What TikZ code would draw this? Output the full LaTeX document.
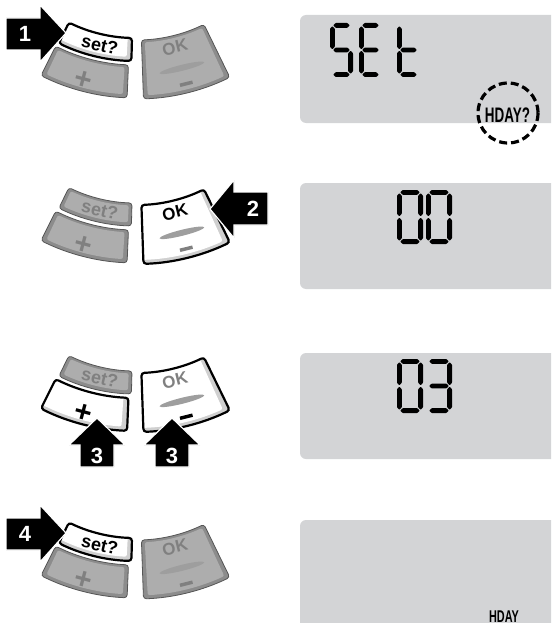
\documentclass[tikz,border=0pt]{standalone}
\usepackage{fontspec}
\setmainfont{Liberation Sans}
\definecolor{lcd}{HTML}{D3D4D6}
\definecolor{keyrim}{HTML}{8C8C8C}
\definecolor{keyface}{HTML}{ADADAD}
\definecolor{keyedge}{HTML}{555555}
\definecolor{keytext}{HTML}{808080}
\definecolor{keyshade}{HTML}{D0D0D0}
\definecolor{streak}{HTML}{9E9E9E}
\tikzset{
  keylabel/.style={font=\fontsize{18}{18}\selectfont\bfseries, inner sep=0pt},
  oklabel/.style={font=\fontsize{17}{17}\selectfont\bfseries, inner sep=0pt},
  pluslabel/.style={font=\fontsize{30}{30}\selectfont\bfseries, inner sep=0pt},
  arrowshape/.style={fill=black, draw=white, line width=1.2pt, line join=miter},
  arrowdigit/.style={font=\fontsize{22}{22}\selectfont\bfseries, text=white, inner sep=0pt},
  lcdpanel/.style={fill=lcd, rounded corners=6pt},
  segment/.style={fill=black, rounded corners=0.6pt}
}
\newcommand\kp[4]{(#1:#3) arc[start angle=#1,end angle=#2,radius=#3] -- (#2:#4) arc[start angle=#2,end angle=#1,radius=#4] -- cycle}
\newcommand\graykey[4]{%
  \pgfmathsetmacro\kia{#1-1.2}\pgfmathsetmacro\kib{#2+1.2}%
  \pgfmathsetmacro\kir{#3+2.5}\pgfmathsetmacro\kiR{#4-3.5}%
  \filldraw[fill=keyrim,draw=keyedge,line width=0.8pt,rounded corners=3pt] \kp{#1}{#2}{#3}{#4};
  \fill[keyface,rounded corners=2pt] \kp{\kia}{\kib}{\kir}{\kiR};}
\newcommand\whitekey[4]{%
  \pgfmathsetmacro\kib{#2+1.6}\pgfmathsetmacro\kiR{#4-4}%
  \fill[keyshade,rounded corners=3pt] \kp{#1}{#2}{#3}{#4};
  \fill[white,rounded corners=2pt] \kp{#1}{\kib}{#3}{\kiR};
  \draw[black,line width=2.2pt,rounded corners=3pt] \kp{#1}{#2}{#3}{#4};}
\newcommand\panelkeys[8]{%
  \begin{scope}[shift={(136,#1-115)}]
    #2{116}{91.5}{153}{176}
    #3{116.5}{92.4}{180}{213}
    #4{88}{64}{155}{214}
    \node[keylabel,text=#5,rotate=-12.8] (set#1) at (102.8:164) {set?};
    \node[pluslabel,text=#6,rotate=-15] (plus#1) at (105:202) {+};
    \node[oklabel,text=#7,rotate=13.5] (ok#1) at (76.5:167) {OK};
    \begin{scope}[shift={(75.9:188.5)},rotate=-14]
      \fill[streak] (0,0) ellipse[x radius=23,y radius=3];
    \end{scope}
    \node[fill=#8,minimum width=13pt,minimum height=3.5pt,inner sep=0pt,rotate=14] (minus#1) at (75.8:205) {};
  \end{scope}}
% seven segment digits (local coords, y down)
\def\dh{54}
\def\sth{2.4}
\newcommand\sga{\fill[segment] (\sth+0.8,\sth)--(2*\sth+0.8,0)--(\dw-2*\sth-0.8,0)--(\dw-\sth-0.8,\sth)--(\dw-2*\sth-0.8,2*\sth)--(2*\sth+0.8,2*\sth)--cycle;}
\newcommand\sgg{\fill[segment] (\sth+0.8,\dh/2)--(2*\sth+0.8,\dh/2-\sth)--(\dw-2*\sth-0.8,\dh/2-\sth)--(\dw-\sth-0.8,\dh/2)--(\dw-2*\sth-0.8,\dh/2+\sth)--(2*\sth+0.8,\dh/2+\sth)--cycle;}
\newcommand\sgd{\fill[segment] (\sth+0.8,\dh-\sth)--(2*\sth+0.8,\dh-2*\sth)--(\dw-2*\sth-0.8,\dh-2*\sth)--(\dw-\sth-0.8,\dh-\sth)--(\dw-2*\sth-0.8,\dh)--(2*\sth+0.8,\dh)--cycle;}
\newcommand\sgf{\fill[segment] (\sth,\sth+0.8)--(2*\sth,2*\sth+0.8)--(2*\sth,\dh/2-\sth-0.8)--(\sth,\dh/2-0.8)--(0,\dh/2-\sth-0.8)--(0,2*\sth+0.8)--cycle;}
\newcommand\sge{\fill[segment] (\sth,\dh/2+0.8)--(2*\sth,\dh/2+\sth+0.8)--(2*\sth,\dh-2*\sth-0.8)--(\sth,\dh-\sth-0.8)--(0,\dh-2*\sth-0.8)--(0,\dh/2+\sth+0.8)--cycle;}
\newcommand\sgb{\fill[segment] (\dw-\sth,\sth+0.8)--(\dw,2*\sth+0.8)--(\dw,\dh/2-\sth-0.8)--(\dw-\sth,\dh/2-0.8)--(\dw-2*\sth,\dh/2-\sth-0.8)--(\dw-2*\sth,2*\sth+0.8)--cycle;}
\newcommand\sgc{\fill[segment] (\dw-\sth,\dh/2+0.8)--(\dw,\dh/2+\sth+0.8)--(\dw,\dh-2*\sth-0.8)--(\dw-\sth,\dh-\sth-0.8)--(\dw-2*\sth,\dh-2*\sth-0.8)--(\dw-2*\sth,\dh/2+\sth+0.8)--cycle;}
\newcommand\segdigit[4]{%
  \def\dw{#3}%
  \begin{scope}[shift={(#1,#2)}]
    \foreach \s in {#4}{\csname sg\s\endcsname}
  \end{scope}}
\begin{document}
\begin{tikzpicture}[x=1pt,y=1pt,yscale=-1]
\path[use as bounding box] (0,0) rectangle (551,623);
\clip (0,0) rectangle (551,623);
% LCD panels
\fill[lcdpanel] (300,15) rectangle (565,123);
\fill[lcdpanel] (300,183) rectangle (565,289);
\fill[lcdpanel] (300,353) rectangle (565,459);
\fill[lcdpanel] (300,520) rectangle (565,640);
% keypads
\panelkeys{0}{\whitekey}{\graykey}{\graykey}{black}{keytext}{keytext}{keytext}
\panelkeys{165}{\graykey}{\graykey}{\whitekey}{keytext}{keytext}{black}{keytext}
\panelkeys{333}{\graykey}{\whitekey}{\whitekey}{keytext}{black}{keytext}{black}
\panelkeys{500}{\whitekey}{\graykey}{\graykey}{black}{keytext}{keytext}{keytext}
% arrows
\path[arrowshape] (6,18) -- (40,18) -- (40,5) -- (66,33) -- (40,62) -- (40,50) -- (6,50) -- cycle;
\node[arrowdigit] (n1) at (25,34) {1};
\path[arrowshape] (268,192) -- (234,192) -- (234,180) -- (210,209) -- (234,238) -- (234,225) -- (268,225) -- cycle;
\node[arrowdigit] (n2) at (253,209) {2};
\path[arrowshape] (97,418) -- (125,445) -- (114,445) -- (114,467) -- (80,467) -- (80,445) -- (69,445) -- cycle;
\node[arrowdigit] (n3a) at (97,456) {3};
\path[arrowshape] (172,418) -- (200,445) -- (189,445) -- (189,467) -- (155,467) -- (155,445) -- (144,445) -- cycle;
\node[arrowdigit] (n3b) at (172,456) {3};
\path[arrowshape] (6,518) -- (40,518) -- (40,505) -- (66,533) -- (40,562) -- (40,550) -- (6,550) -- cycle;
\node[arrowdigit] (n4) at (25,534) {4};
% LCD contents
\segdigit{330}{23}{23}{a,f,g,c,d}
\segdigit{359}{23}{23}{a,f,g,e,d}
\segdigit{397}{23}{23}{f,e,g,d}
\draw[line width=3.2pt, dash pattern=on 8pt off 4pt] (508,113) circle[radius=30];
\node[font=\fontsize{21}{21}\selectfont\bfseries, inner sep=0pt] (hday1) at (507.5,115) {\scalebox{0.64}[1]{HDAY?}};
\segdigit{397}{190}{26}{a,b,c,d,e,f}
\segdigit{426}{190}{26}{a,b,c,d,e,f}
\segdigit{397}{359}{26}{a,b,c,d,e,f}
\segdigit{426}{359}{26}{a,b,c,d,g}
\node[font=\fontsize{17}{17}\selectfont\bfseries, inner sep=0pt, anchor=north] (hday4) at (504,611) {\scalebox{0.64}[1]{HDAY}};
\end{tikzpicture}
\end{document}
